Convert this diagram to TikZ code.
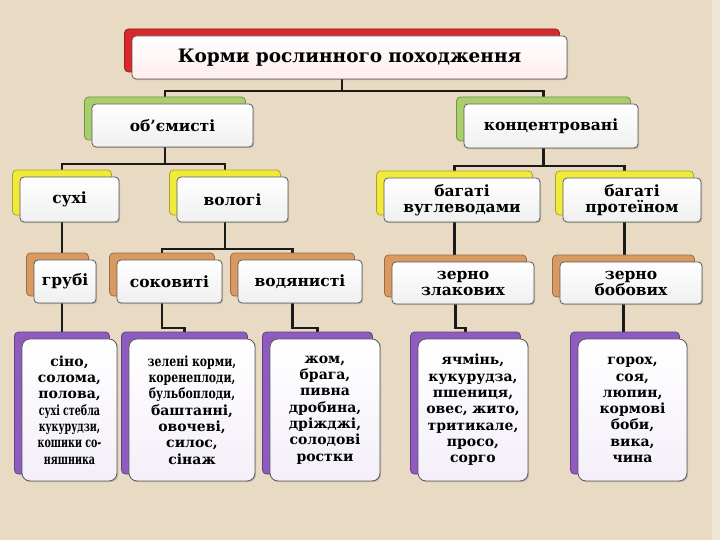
\documentclass[tikz,border=0pt]{standalone}
\usepackage{fontspec}
\usepackage{graphicx}
\setmainfont{DejaVu Serif}[BoldFont={DejaVu Serif Bold}]
\usetikzlibrary{shadows}
\pgfdeclarelayer{bgl}
\pgfdeclarelayer{conl}
\pgfsetlayers{bgl,conl,main}
\definecolor{bgc}{HTML}{E8DAC3}
\definecolor{bgstrip}{HTML}{EFE6D6}
\definecolor{redc}{HTML}{D7282E}
\definecolor{greenc}{HTML}{A8CF6B}
\definecolor{yellowc}{HTML}{F0EB3A}
\definecolor{orangec}{HTML}{D99A62}
\definecolor{purplec}{HTML}{8D5CBE}
\definecolor{linec}{HTML}{1A1A1A}
\tikzset{
  x=1pt, y=-1pt,
  backbox/.style={draw=#1!70!black, line width=0.8pt, fill=#1, rounded corners=4pt, inner sep=0pt},
  frontbox/.style={draw=black!65, line width=0.8pt, top color=white, bottom color=black!6, rounded corners=4pt, inner sep=2pt, align=center, font=\bfseries\fontsize{15.5}{16}\selectfont,
    drop shadow={shadow xshift=1.2pt, shadow yshift=-1.2pt, opacity=0.35}},
  itembox/.style={frontbox, rounded corners=8pt, top color=white, bottom color=purplec!10, font=\bfseries\fontsize{14}{16.3}\selectfont},
  conn/.style={draw=linec, line width=2.4pt}
}
% #1 name, #2 colour, #3 x1, #4 y1, #5 x2, #6 y2 (front), #7 style, #8 text
\newcommand\pairbox[8]{%
  \node[backbox=#2, minimum width={(#5-#3)*1pt}, minimum height={(#6-#4)*1pt}] (#1-b) at ({(#3+#5)/2-7.5},{(#4+#6)/2-7}) {};
  \node[#7, minimum width={(#5-#3)*1pt}, minimum height={(#6-#4)*1pt}, text width={(#5-#3-6)*1pt}] (#1) at ({(#3+#5)/2},{(#4+#6)/2}) {#8};
}
\newcommand\cnd[1]{\scalebox{0.68}[1]{#1}}
\newcommand\cnb[1]{\scalebox{0.78}[1]{#1}}
\begin{document}
\begin{tikzpicture}
\begin{pgfonlayer}{bgl}
  \fill[bgc] (0,0) rectangle (720,540);
  \fill[bgstrip] (712,0) rectangle (720,540);
\end{pgfonlayer}
\useasboundingbox (0,0) rectangle (720,540);

% level 0
\pairbox{t}{redc}{132}{36}{567}{79}{frontbox, bottom color=red!7, font=\bfseries\fontsize{18.5}{20}\selectfont}{Корми рослинного походження}
% level 1
\pairbox{ob}{greenc}{92}{104}{253}{147}{frontbox}{об’ємисті}
\pairbox{ko}{greenc}{464}{104}{638}{148}{frontbox}{концентровані}
% level 2
\pairbox{su}{yellowc}{20}{177}{119}{222}{frontbox}{сухі}
\pairbox{vo}{yellowc}{177}{177}{288}{222}{frontbox}{вологі}
\pairbox{bv}{yellowc}{384}{178}{540}{222}{frontbox}{багаті\\вуглеводами}
\pairbox{bp}{yellowc}{563}{178}{701}{222}{frontbox}{багаті\\протеїном}
% level 3
\pairbox{gr}{orangec}{34}{260}{96}{303}{frontbox}{грубі}
\pairbox{sk}{orangec}{117}{260}{222}{303}{frontbox}{соковиті}
\pairbox{vd}{orangec}{238}{260}{362}{303}{frontbox}{водянисті}
\pairbox{zz}{orangec}{392}{262}{534}{304}{frontbox}{зерно\\злакових}
\pairbox{zb}{orangec}{560}{262}{702}{304}{frontbox}{зерно\\бобових}
% level 4
\pairbox{p1}{purplec}{22}{339}{117}{481}{itembox}{сіно,\\солома,\\полова,\\\cnd{сухі стебла}\\\cnd{кукурудзи,}\\\cnd{кошики со-}\\\cnd{няшника}}
\pairbox{p2}{purplec}{129}{339}{255}{481}{itembox}{\cnb{зелені корми,}\\\cnb{коренеплоди,}\\\cnb{бульбоплоди,}\\баштанні,\\овочеві,\\силос,\\сінаж}
\pairbox{p3}{purplec}{270}{339}{380}{481}{itembox}{жом,\\брага,\\пивна\\дробина,\\дріжджі,\\солодові\\ростки}
\pairbox{p4}{purplec}{418}{339}{528}{481}{itembox}{ячмінь,\\кукурудза,\\пшениця,\\овес, жито,\\тритикале,\\просо,\\сорго}
\pairbox{p5}{purplec}{578}{339}{687}{481}{itembox}{горох,\\соя,\\люпин,\\кормові\\боби,\\вика,\\чина}

% connectors
\coordinate (bus0) at (0,91);
\coordinate (bus1) at (0,164);
\coordinate (bus2) at (0,166);
\coordinate (bus3) at (0,249);
\coordinate (bus4) at (0,328);
\begin{pgfonlayer}{conl}
  \draw[conn] (t-b.center) -- (t-b.center |- bus0) -| (ob-b.center);
  \draw[conn] (t-b.center |- bus0) -| (ko-b.center);
  \draw[conn] (ob-b.center) -- (ob-b.center |- bus1) -| (su-b.center);
  \draw[conn] (ob-b.center |- bus1) -| (vo-b.center);
  \draw[conn] (ko-b.center) -- (ko-b.center |- bus2) -| (bv-b.center);
  \draw[conn] (ko-b.center |- bus2) -| (bp-b.center);
  \draw[conn] (su-b.center) -- (su-b.center |- gr-b.center);
  \draw[conn] (vo-b.center) -- (vo-b.center |- bus3) -| (sk-b.center);
  \draw[conn] (vo-b.center |- bus3) -| (vd-b.center);
  \draw[conn] (bv-b.center) -- (bv-b.center |- zz-b.center);
  \draw[conn] (bp-b.center) -- (bp-b.center |- zb-b.center);
  \draw[conn] (p1-b.center |- gr.south) -- (p1-b.center);
  \draw[conn] (sk-b.center) |- (bus4 -| p2-b.center) -- (p2-b.center);
  \draw[conn] (vd-b.center) |- (bus4 -| p3-b.center) -- (p3-b.center);
  \draw[conn] (zz-b.center) |- (bus4 -| p4-b.center) -- (p4-b.center);
  \draw[conn] (zb-b.center) -- (zb-b.center |- p5-b.center);
\end{pgfonlayer}
\end{tikzpicture}
\end{document}
